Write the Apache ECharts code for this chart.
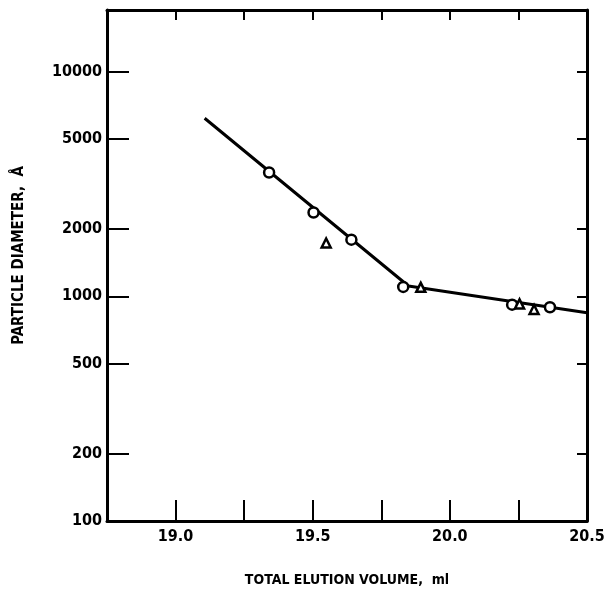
<!DOCTYPE html>
<html>
<head>
<meta charset="utf-8">
<script src="https://cdn.jsdelivr.net/npm/echarts@6/dist/echarts.min.js"></script>
<style>
html,body{margin:0;padding:0;background:#fff;}
#chart{width:609px;height:594px;}
</style>
</head>
<body>
<div id="chart"></div>
<script>
// Data
const circlePoints = [[19.341, 3556], [19.503, 2361], [19.641, 1786], [19.830, 1101], [20.227, 918], [20.365, 894]];
const trianglePoints = [[19.549, 1727], [19.894, 1096], [20.254, 925], [20.307, 873]];
const fitLine = [[19.106, 6200], [19.849, 1111], [20.5, 844]];
const yTickValues = [100, 200, 500, 1000, 2000, 5000, 10000];
const xLabelValues = [19.0, 19.5, 20.0, 20.5];
const xTitle = 'TOTAL ELUTION VOLUME,  ml';
const yTitle = 'PARTICLE DIAMETER,  Å';

const FONT = '"DejaVu Sans Condensed", "DejaVu Sans", sans-serif';
const chart = echarts.init(document.getElementById('chart'), null, {renderer: 'canvas'});
const axisLine = {show: true, onZero: false, lineStyle: {color: '#000', width: 3}};
const yMin = 100, yMax = 18800;
const labelStyle = {color: '#000', fontFamily: FONT, fontWeight: 'bold', fontSize: 16};

chart.setOption({
  animation: false,
  backgroundColor: '#fff',
  grid: {left: 107, right: 22, top: 10, bottom: 73, containLabel: false},
  xAxis: [
    {
      type: 'value', position: 'bottom', min: 18.75, max: 20.5, interval: 0.25,
      axisLine: axisLine,
      axisTick: {show: true, inside: true, length: 21, lineStyle: {color: '#000', width: 2}},
      axisLabel: Object.assign({}, labelStyle, {margin: 8, showMinLabel: true, showMaxLabel: true,
        formatter: function (v) {
          for (const t of xLabelValues) { if (Math.abs(v - t) < 1e-6) return t.toFixed(1); }
          return '';
        }}),
      splitLine: {show: false},
      name: xTitle, nameLocation: 'middle', nameGap: 52,
      nameTextStyle: {color: '#000', fontFamily: FONT, fontWeight: 'bold', fontSize: 14}
    },
    {
      type: 'value', position: 'top', min: 18.75, max: 20.5, interval: 0.25,
      axisLine: axisLine,
      axisTick: {show: true, inside: true, length: 10, lineStyle: {color: '#000', width: 2}},
      axisLabel: {show: false}, splitLine: {show: false}
    }
  ],
  yAxis: [
    {
      type: 'log', logBase: 10, position: 'left', min: yMin, max: yMax,
      axisLine: axisLine,
      axisTick: {show: true, inside: true, length: 22, customValues: yTickValues, lineStyle: {color: '#000', width: 2}},
      axisLabel: Object.assign({}, labelStyle, {margin: 5, customValues: yTickValues,
        formatter: function (v) { return String(Math.round(v)); }}),
      splitLine: {show: false},
      name: yTitle, nameLocation: 'middle', nameGap: 80, nameRotate: 90,
      nameTextStyle: {color: '#000', fontFamily: FONT, fontWeight: 'bold', fontSize: 15, padding: [0, 0, 0, 20]}
    },
    {
      type: 'log', logBase: 10, position: 'right', min: yMin, max: yMax,
      axisLine: axisLine,
      axisTick: {show: true, inside: true, length: 10, customValues: yTickValues, lineStyle: {color: '#000', width: 2}},
      axisLabel: {show: false, customValues: yTickValues}, splitLine: {show: false}
    }
  ],
  series: [
    {
      type: 'line', data: fitLine, showSymbol: false, symbol: 'none',
      lineStyle: {color: '#000', width: 3}, z: 2
    },
    {
      type: 'scatter', data: circlePoints, symbol: 'circle', symbolSize: 10,
      itemStyle: {color: '#fff', borderColor: '#000', borderWidth: 2.5, opacity: 1}, z: 3
    },
    {
      type: 'scatter', data: trianglePoints, symbol: 'triangle', symbolSize: 9,
      itemStyle: {color: '#fff', borderColor: '#000', borderWidth: 2.5, opacity: 1}, z: 4
    }
  ]
});
</script>
</body>
</html>
